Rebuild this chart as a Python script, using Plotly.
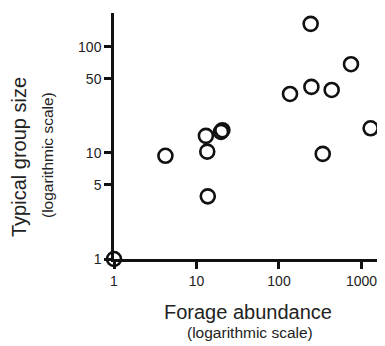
import plotly.graph_objects as go

forage = [1, 4.2, 13, 13.5, 13.7, 19.8, 20.6, 136, 242, 247, 339, 435, 746, 1290]
group = [1, 9.4, 14.5, 10.3, 3.9, 15.8, 16.4, 36, 165, 42, 9.8, 39.3, 68.7, 17.1]

x_ticks = [1, 10, 100, 1000]
y_ticks = [1, 5, 10, 50, 100]

FONT = "Liberation Sans"
INK = "#111111"
TXT = "#222222"

# page body has an 8px margin: figure spans window pixels 8..385 / 8..346
OFF = 8
W, H = 385 - OFF, 346 - OFF
L, R, T, B = 114 - OFF, 0, 13 - OFF, 346 - 259

fig = go.Figure()
fig.add_trace(go.Scatter(
    x=forage, y=group, mode="markers",
    marker=dict(symbol="circle", size=14, color="rgba(255,255,255,0)",
                line=dict(color=INK, width=2.6)),
    cliponaxis=False, showlegend=False, hoverinfo="skip",
))

axis_common = dict(
    type="log", showgrid=False, zeroline=False, showline=True,
    linecolor=INK, linewidth=2.5, ticks="outside",
    ticklen=7, tickwidth=2.5, tickcolor=INK,
    tickfont=dict(size=14, family=FONT, color=TXT),
)

fig.update_layout(
    width=W, height=H,
    margin=dict(l=L, r=R, t=T, b=B, autoexpand=False),
    paper_bgcolor="white", plot_bgcolor="white",
    font=dict(family=FONT, color=TXT, size=14),
    xaxis=dict(range=[0, 3.285], tickvals=x_ticks,
               ticktext=[str(v) for v in x_ticks], **axis_common),
    yaxis=dict(range=[0, 2.32], tickvals=y_ticks,
               ticktext=[str(v) for v in y_ticks], **axis_common),
)

# annotations placed at window-pixel centres
labels = [
    ("Forage abundance", 248, 312, 20, 0),
    ("(logarithmic scale)", 250, 332, 15.5, 0),
    ("Typical group size", 19, 157, 20, -90),
    ("(logarithmic scale)", 48, 155, 15.5, -90),
]
pw, ph = W - L - R, H - T - B
for text, px, py, size, ang in labels:
    fx = px - OFF
    fy = py - OFF
    fig.add_annotation(
        text=text, showarrow=False, textangle=ang,
        xref="paper", yref="paper",
        x=(fx - L) / pw, y=(H - fy - B) / ph,
        xanchor="center", yanchor="middle",
        font=dict(size=size, family=FONT, color=TXT),
    )

fig.write_html("out.html")
